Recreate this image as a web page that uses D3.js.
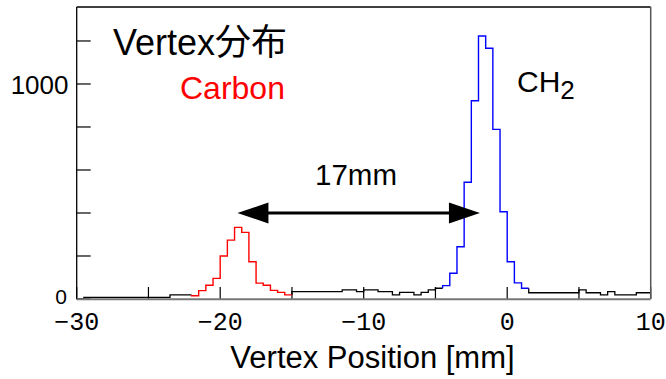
<!DOCTYPE html>
<html>
<head>
<meta charset="utf-8">
<script src="https://cdn.jsdelivr.net/npm/d3@7"></script>
<style>
  body { margin: 0; background: #fff; }
  text { font-family: "Liberation Sans", Arial, "Noto Sans CJK JP", sans-serif; }
  .xtick text { font-family: "Liberation Mono", "DejaVu Sans Mono", monospace; }
</style>
</head>
<body>
<div id="chart"></div>
<script>
// histogram pieces: start of first bin (mm) and counts per 0.5 mm bin
var binWidth = 0.5;

var bgLeftStart = -30;
var bgLeftCounts = [0, 8, 8, 8, 8, 8, 8, 8, 8, 8, 8, 8, 8, 19, 19, 19];

var carbonStart = -22;
var carbonCounts = [15, 39, 64, 96, 200, 274, 333, 310, 173, 74, 64, 40, 31, 19];

var bgMidStart = -15;
var bgMidCounts = [34, 34, 34, 34, 34, 34, 34, 42, 42, 34, 42, 42, 34, 34, 19, 31, 31, 19, 31, 42, 50];

var ch2Start = -4.5;
var ch2Counts = [62, 120, 243, 543, 922, 1223, 1166, 789, 406, 173, 75, 50];

var bgRightStart = 1.5;
var bgRightCounts = [29, 29, 29, 29, 29, 29, 29, 42, 29, 29, 19, 34, 19, 19, 19, 29, 29];

var xTicks = [-30, -25, -20, -15, -10, -5, 0, 5, 10];
var xLabels = [-30, -20, -10, 0, 10];
var yTicks = [0, 200, 400, 600, 800, 1000, 1200];
var yLabels = [0, 1000];

// arrow between the two peaks (mm)
var arrowFrom = -18.8, arrowTo = -1.9, arrowCount = 400;

var width = 666, height = 379;

var svg = d3.select("#chart").append("svg")
    .attr("width", width)
    .attr("height", height);

var x = d3.scaleLinear()
    .domain([-30, 10])
    .range([76.7, 650.7]);

var y = d3.scaleLinear()
    .domain([0, 1358])
    .range([299, 7]);

function stepPath(start, counts, prev) {
  var p = "M" + x(start) + "," + y(prev == null ? counts[0] : prev);
  counts.forEach(function(c, i) {
    p += "V" + y(c) + "H" + x(start + (i + 1) * binWidth);
  });
  return p;
}

// ticks
svg.append("g")
  .selectAll("line")
  .data(yTicks)
  .enter().append("line")
    .attr("x1", x(-30))
    .attr("x2", x(-30) + 14)
    .attr("y1", y)
    .attr("y2", y)
    .attr("stroke", "#000")
    .attr("stroke-width", 1.2);

svg.append("g")
  .selectAll("line")
  .data(xTicks)
  .enter().append("line")
    .attr("x1", x)
    .attr("x2", x)
    .attr("y1", y(0))
    .attr("y2", y(0) - 12)
    .attr("stroke", "#000")
    .attr("stroke-width", 1.2);

// histogram
svg.append("path")
    .attr("d", stepPath(bgLeftStart, bgLeftCounts))
    .attr("fill", "none").attr("stroke", "#000").attr("stroke-width", 1.3);
svg.append("path")
    .attr("d", stepPath(bgMidStart, bgMidCounts, carbonCounts[carbonCounts.length - 1]))
    .attr("fill", "none").attr("stroke", "#000").attr("stroke-width", 1.3);
svg.append("path")
    .attr("d", stepPath(bgRightStart, bgRightCounts, ch2Counts[ch2Counts.length - 1]))
    .attr("fill", "none").attr("stroke", "#000").attr("stroke-width", 1.3);
svg.append("path")
    .attr("d", stepPath(carbonStart, carbonCounts, bgLeftCounts[bgLeftCounts.length - 1]))
    .attr("fill", "none").attr("stroke", "#ff0000").attr("stroke-width", 1.4);
svg.append("path")
    .attr("d", stepPath(ch2Start, ch2Counts, bgMidCounts[bgMidCounts.length - 1]))
    .attr("fill", "none").attr("stroke", "#0000ff").attr("stroke-width", 1.4);

// frame
svg.append("line")
    .attr("x1", x(-30)).attr("x2", x(10)).attr("y1", y(1358)).attr("y2", y(1358))
    .attr("stroke", "#000").attr("stroke-width", 1.3);
svg.append("line")
    .attr("x1", x(-30)).attr("x2", x(-30)).attr("y1", y(1358)).attr("y2", y(0))
    .attr("stroke", "#000").attr("stroke-width", 1.3);
svg.append("line")
    .attr("x1", x(10)).attr("x2", x(10)).attr("y1", y(1358)).attr("y2", y(0))
    .attr("stroke", "#555").attr("stroke-width", 1.5);
svg.append("line")
    .attr("x1", x(-30)).attr("x2", x(10)).attr("y1", y(0) + 0.3).attr("y2", y(0) + 0.3)
    .attr("stroke", "#777").attr("stroke-width", 2);

// tick labels
svg.append("g")
    .attr("class", "xtick")
  .selectAll("text")
  .data(xLabels)
  .enter().append("text")
    .attr("x", x)
    .attr("y", 329.5)
    .attr("text-anchor", "middle")
    .attr("font-size", 25)
    .text(function(d) { return d < 0 ? "\u2212" + (-d) : d; });

svg.append("g")
  .selectAll("text")
  .data(yLabels)
  .enter().append("text")
    .attr("x", function(d) { return d == 0 ? 67 : 68.5; })
    .attr("y", function(d) { return y(d) + (d == 0 ? 4.5 : 10.5); })
    .attr("text-anchor", "end")
    .attr("font-size", function(d) { return d == 0 ? 21 : 26; })
    .text(function(d) { return d; });

// axis title
svg.append("text")
    .attr("x", 372.5)
    .attr("y", 368)
    .attr("text-anchor", "middle")
    .attr("font-size", 31)
    .text("Vertex Position [mm]");

// annotations
svg.append("text")
    .attr("x", 113)
    .attr("y", 55)
    .attr("font-size", 36)
    .text("Vertex分布");

svg.append("text")
    .attr("x", 180)
    .attr("y", 99)
    .attr("font-size", 32)
    .attr("fill", "#ff0000")
    .text("Carbon");

var ch = svg.append("text")
    .attr("x", 517)
    .attr("y", 91.5)
    .attr("font-size", 30)
    .text("CH");
ch.append("tspan")
    .attr("dy", 7.5)
    .attr("font-size", 26)
    .text("2");

svg.append("text")
    .attr("x", 315)
    .attr("y", 185)
    .attr("font-size", 29.5)
    .text("17mm");

// double arrow
var ay = y(arrowCount), x0 = x(arrowFrom), x1 = x(arrowTo);
svg.append("line")
    .attr("x1", x0 + 20).attr("x2", x1 - 20)
    .attr("y1", ay).attr("y2", ay)
    .attr("stroke", "#000").attr("stroke-width", 3);
svg.append("path")
    .attr("d", "M" + x0 + "," + ay + "L" + (x0 + 31) + "," + (ay - 10.5) + "L" + (x0 + 31) + "," + (ay + 10.5) + "Z")
    .attr("fill", "#000");
svg.append("path")
    .attr("d", "M" + x1 + "," + ay + "L" + (x1 - 31) + "," + (ay - 10.5) + "L" + (x1 - 31) + "," + (ay + 10.5) + "Z")
    .attr("fill", "#000");
</script>
</body>
</html>
